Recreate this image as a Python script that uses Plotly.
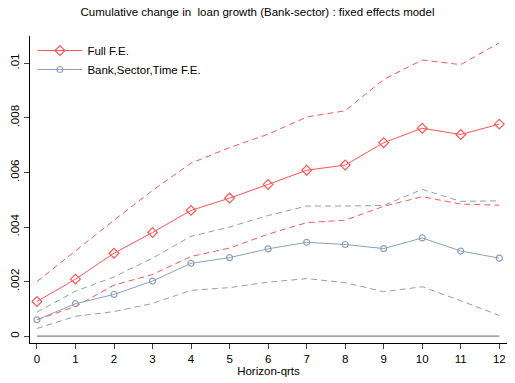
import plotly.graph_objects as go

horizon = list(range(13))
full_fe = [0.00127, 0.00209, 0.00304, 0.00380, 0.00461, 0.00506, 0.00556, 0.00608, 0.00627, 0.00709, 0.00762, 0.00739, 0.00777]
full_hi = [0.00200, 0.00313, 0.00425, 0.00534, 0.00634, 0.00691, 0.00740, 0.00803, 0.00826, 0.00941, 0.01012, 0.00995, 0.01075]
full_lo = [0.00060, 0.00109, 0.00187, 0.00226, 0.00292, 0.00323, 0.00374, 0.00416, 0.00425, 0.00476, 0.00511, 0.00484, 0.00480]
bst_fe = [0.00060, 0.00119, 0.00153, 0.00202, 0.00267, 0.00288, 0.00320, 0.00344, 0.00336, 0.00321, 0.00360, 0.00312, 0.00286]
bst_hi = [0.00088, 0.00165, 0.00217, 0.00286, 0.00366, 0.00400, 0.00442, 0.00477, 0.00477, 0.00479, 0.00538, 0.00494, 0.00496]
bst_lo = [0.00028, 0.00073, 0.00090, 0.00120, 0.00168, 0.00178, 0.00198, 0.00211, 0.00196, 0.00163, 0.00181, 0.00130, 0.00076]
zero = [0.0] * 13
ytick_vals = [0, 0.002, 0.004, 0.006, 0.008, 0.01]
ytick_text = ["0", ".002", ".004", ".006", ".008", ".01"]

RED = "rgb(255,85,85)"
BLUE = "rgb(140,160,185)"
DASH = "6px,4px"

fig = go.Figure()
fig.add_trace(go.Scatter(x=horizon, y=zero, mode="lines", line=dict(color="rgb(130,130,130)", width=1.2),
                         showlegend=False, hoverinfo="skip"))
fig.add_trace(go.Scatter(x=horizon, y=full_hi, mode="lines", line=dict(color=RED, width=1, dash=DASH), showlegend=False))
fig.add_trace(go.Scatter(x=horizon, y=full_lo, mode="lines", line=dict(color=RED, width=1, dash=DASH), showlegend=False))
fig.add_trace(go.Scatter(x=horizon, y=bst_hi, mode="lines", line=dict(color=BLUE, width=1, dash=DASH), showlegend=False))
fig.add_trace(go.Scatter(x=horizon, y=bst_lo, mode="lines", line=dict(color=BLUE, width=1, dash=DASH), showlegend=False))
fig.add_trace(go.Scatter(x=horizon, y=full_fe, mode="lines+markers", name="Full F.E.",
                         line=dict(color=RED, width=1),
                         marker=dict(symbol="diamond-open", size=7.5, color=RED, line=dict(width=1.2))))
fig.add_trace(go.Scatter(x=horizon, y=bst_fe, mode="lines+markers", name="Bank,Sector,Time F.E.",
                         line=dict(color=BLUE, width=1),
                         marker=dict(symbol="circle-open", size=6, color=BLUE, line=dict(width=1.2))))

fig.update_layout(
    width=515, height=383,
    margin=dict(l=30, r=8, t=36, b=35),
    paper_bgcolor="white", plot_bgcolor="white",
    font=dict(family="Liberation Sans, Arial", size=11.5, color="black"),
    title=dict(text="Cumulative change in  loan growth (Bank-sector) : fixed effects model",
               x=0.5, xanchor="center", y=1 - 12 / 383, yanchor="middle", font=dict(size=11.5)),
    legend=dict(x=0.005, y=1.0, xanchor="left", yanchor="top", bgcolor="rgba(0,0,0,0)",
                font=dict(size=11.5), tracegroupgap=0, itemwidth=45),
    xaxis=dict(range=[-0.18, 12.2], tickmode="array", tickvals=horizon, ticks="outside", ticklen=5,
               showline=True, linecolor="black", linewidth=1.2, showgrid=False, zeroline=False,
               title=dict(text="Horizon-qrts", standoff=2, font=dict(size=11.5)), tickfont=dict(size=11.5)),
    yaxis=dict(range=[-0.00025, 0.011], tickmode="array", tickvals=ytick_vals, ticktext=ytick_text,
               ticks="outside", ticklen=5, tickangle=-90, showline=True, linecolor="black", linewidth=1.2,
               showgrid=False, zeroline=False, tickfont=dict(size=11.5)),
)
fig.write_html("out.html")
